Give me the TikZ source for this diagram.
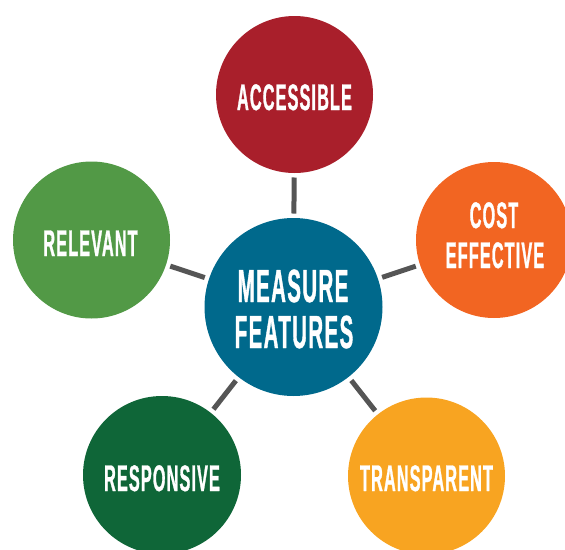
\documentclass[tikz,border=0pt]{standalone}
\usepackage{fontspec}
\newfontfamily\condfont{Liberation Sans Bold}[FakeStretch=0.44, FakeBold=0.8, LetterSpace=3]
\definecolor{midblue}{HTML}{00698C}
\definecolor{accred}{HTML}{A91F2B}
\definecolor{costorange}{HTML}{F26522}
\definecolor{relgreen}{HTML}{529946}
\definecolor{resgreen}{HTML}{0F6638}
\definecolor{transyellow}{HTML}{F8A421}
\definecolor{linkgray}{HTML}{555555}
\begin{document}
\begin{tikzpicture}[x=1pt, y=-1pt,
  bubble/.style={circle, draw=none, inner sep=0pt, outer sep=0pt},
  lbl/.style={anchor=base, text=white, inner sep=0pt, font=\condfont\fontsize{37}{40}\selectfont},
  biglbl/.style={anchor=base, text=white, inner sep=0pt, font=\condfont\fontsize{46.5}{46}\selectfont},
  link/.style={draw=linkgray, line width=5pt, shorten >=4.5pt, shorten <=4.5pt}]
  \useasboundingbox (0,0) rectangle (565,549);
  \clip (0,0) rectangle (565,549);

  % circles
  \node[bubble, fill=midblue, minimum size=178pt] (mid) at (293.5,307) {};
  \node[bubble, fill=accred, minimum size=157pt] (acc) at (294.5,94.5) {};
  \node[bubble, fill=costorange, minimum size=156pt] (cost) at (494,240) {};
  \node[bubble, fill=relgreen, minimum size=157pt] (rel) at (91.5,240) {};
  \node[bubble, fill=resgreen, minimum size=158pt] (res) at (162,475) {};
  \node[bubble, fill=transyellow, minimum size=157pt] (trans) at (426.5,476) {};

  % connectors
  \draw[link] (acc) -- (mid);
  \draw[link] (cost) -- (mid);
  \draw[link] (rel) -- (mid);
  \draw[link] (res) -- (mid);
  \draw[link] (trans) -- (mid);

  % labels
  \node[biglbl] (mid-a) at (293,302) {MEASURE};
  \node[biglbl] (mid-b) at (294,348) {FEATURES};
  \node[lbl] (acc-t) at (294.5,110) {ACCESSIBLE};
  \node[lbl] (cost-a) at (494,228) {COST};
  \node[lbl] (cost-b) at (495,268) {EFFECTIVE};
  \node[lbl] (rel-t) at (90.5,256) {RELEVANT};
  \node[lbl] (res-t) at (162,491) {RESPONSIVE};
  \node[lbl] (trans-t) at (426.5,491) {TRANSPARENT};
\end{tikzpicture}
\end{document}
